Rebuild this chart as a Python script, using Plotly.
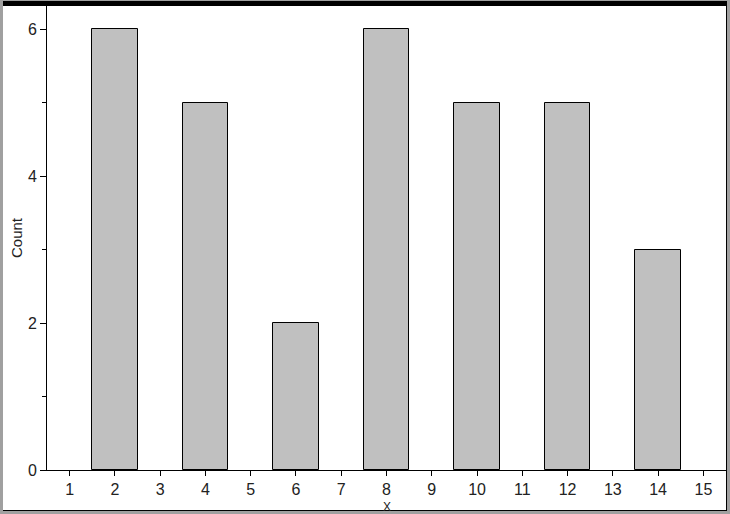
import plotly.graph_objects as go

x_values = [2, 4, 6, 8, 10, 12, 14]
counts = [6, 5, 2, 6, 5, 5, 3]
x_ticks = list(range(1, 16))
y_ticks = [0, 2, 4, 6]

W, H = 730, 514
L, R, T, B = 47, 726, 6, 470  # plot area in pixels

def px(x):
    return (x - L) / (R - L)

def py(y):
    return (B - y) / (B - T)

fig = go.Figure()
fig.add_trace(go.Bar(
    x=x_values, y=counts, width=1,
    marker=dict(color="#c0c0c0", line=dict(color="black", width=1)),
    hoverinfo="x+y",
))

font = dict(family="Liberation Sans, Arial, sans-serif", size=16, color="#222222")

fig.update_layout(
    width=W, height=H,
    margin=dict(l=L, r=W - R, t=T, b=H - B, pad=0),
    paper_bgcolor="white", plot_bgcolor="white",
    showlegend=False,
    bargap=0,
    font=font,
    xaxis=dict(
        range=[0.5, 15.5], tickmode="array", tickvals=x_ticks,
        ticktext=[str(v) for v in x_ticks],
        ticks="outside", ticklen=5, tickcolor="black", tickwidth=1,
        showline=True, linecolor="black", linewidth=1,
        showgrid=False, zeroline=False, tickfont=font,
    ),
    yaxis=dict(
        range=[0, 464 / 73.5], tickmode="array", tickvals=y_ticks,
        ticktext=[str(v) for v in y_ticks],
        ticks="outside", ticklen=6, tickcolor="black", tickwidth=1,
        minor=dict(tickmode="array", tickvals=[1, 3, 5], ticks="outside", ticklen=4, tickcolor="black", showgrid=False),
        showline=True, linecolor="black", linewidth=1,
        showgrid=False, zeroline=False, tickfont=font,
    ),
    annotations=[
        dict(text="Count", xref="paper", yref="paper", x=px(16), y=0.5,
             xanchor="center", yanchor="middle", textangle=-90, showarrow=False,
             font=dict(family=font["family"], size=15, color="#222222")),
        dict(text="X", xref="paper", yref="paper", x=0.5, y=py(498),
             xanchor="center", yanchor="top", showarrow=False,
             font=dict(family=font["family"], size=12, color="#222222")),
    ],
)

gray = "#a0a0a0"
rects = [
    (0, 0, 3, 514, gray),
    (727, 0, 730, 514, gray),
    (0, 0, 730, 1, gray),
    (0, 511, 730, 514, gray),
    (3, 1, 727, 6, "black"),
    (726, 1, 727, 511, "black"),
    (3, 510, 727, 511, "black"),
]
for x0, y0, x1, y1, c in rects:
    fig.add_shape(type="rect", xref="paper", yref="paper",
                  x0=px(x0), x1=px(x1), y0=py(y1), y1=py(y0),
                  fillcolor=c, line=dict(width=0), layer="above")

fig.write_html("out.html", config={"displayModeBar": False},
               post_script="document.body.style.margin='0';document.body.style.overflow='hidden';")
